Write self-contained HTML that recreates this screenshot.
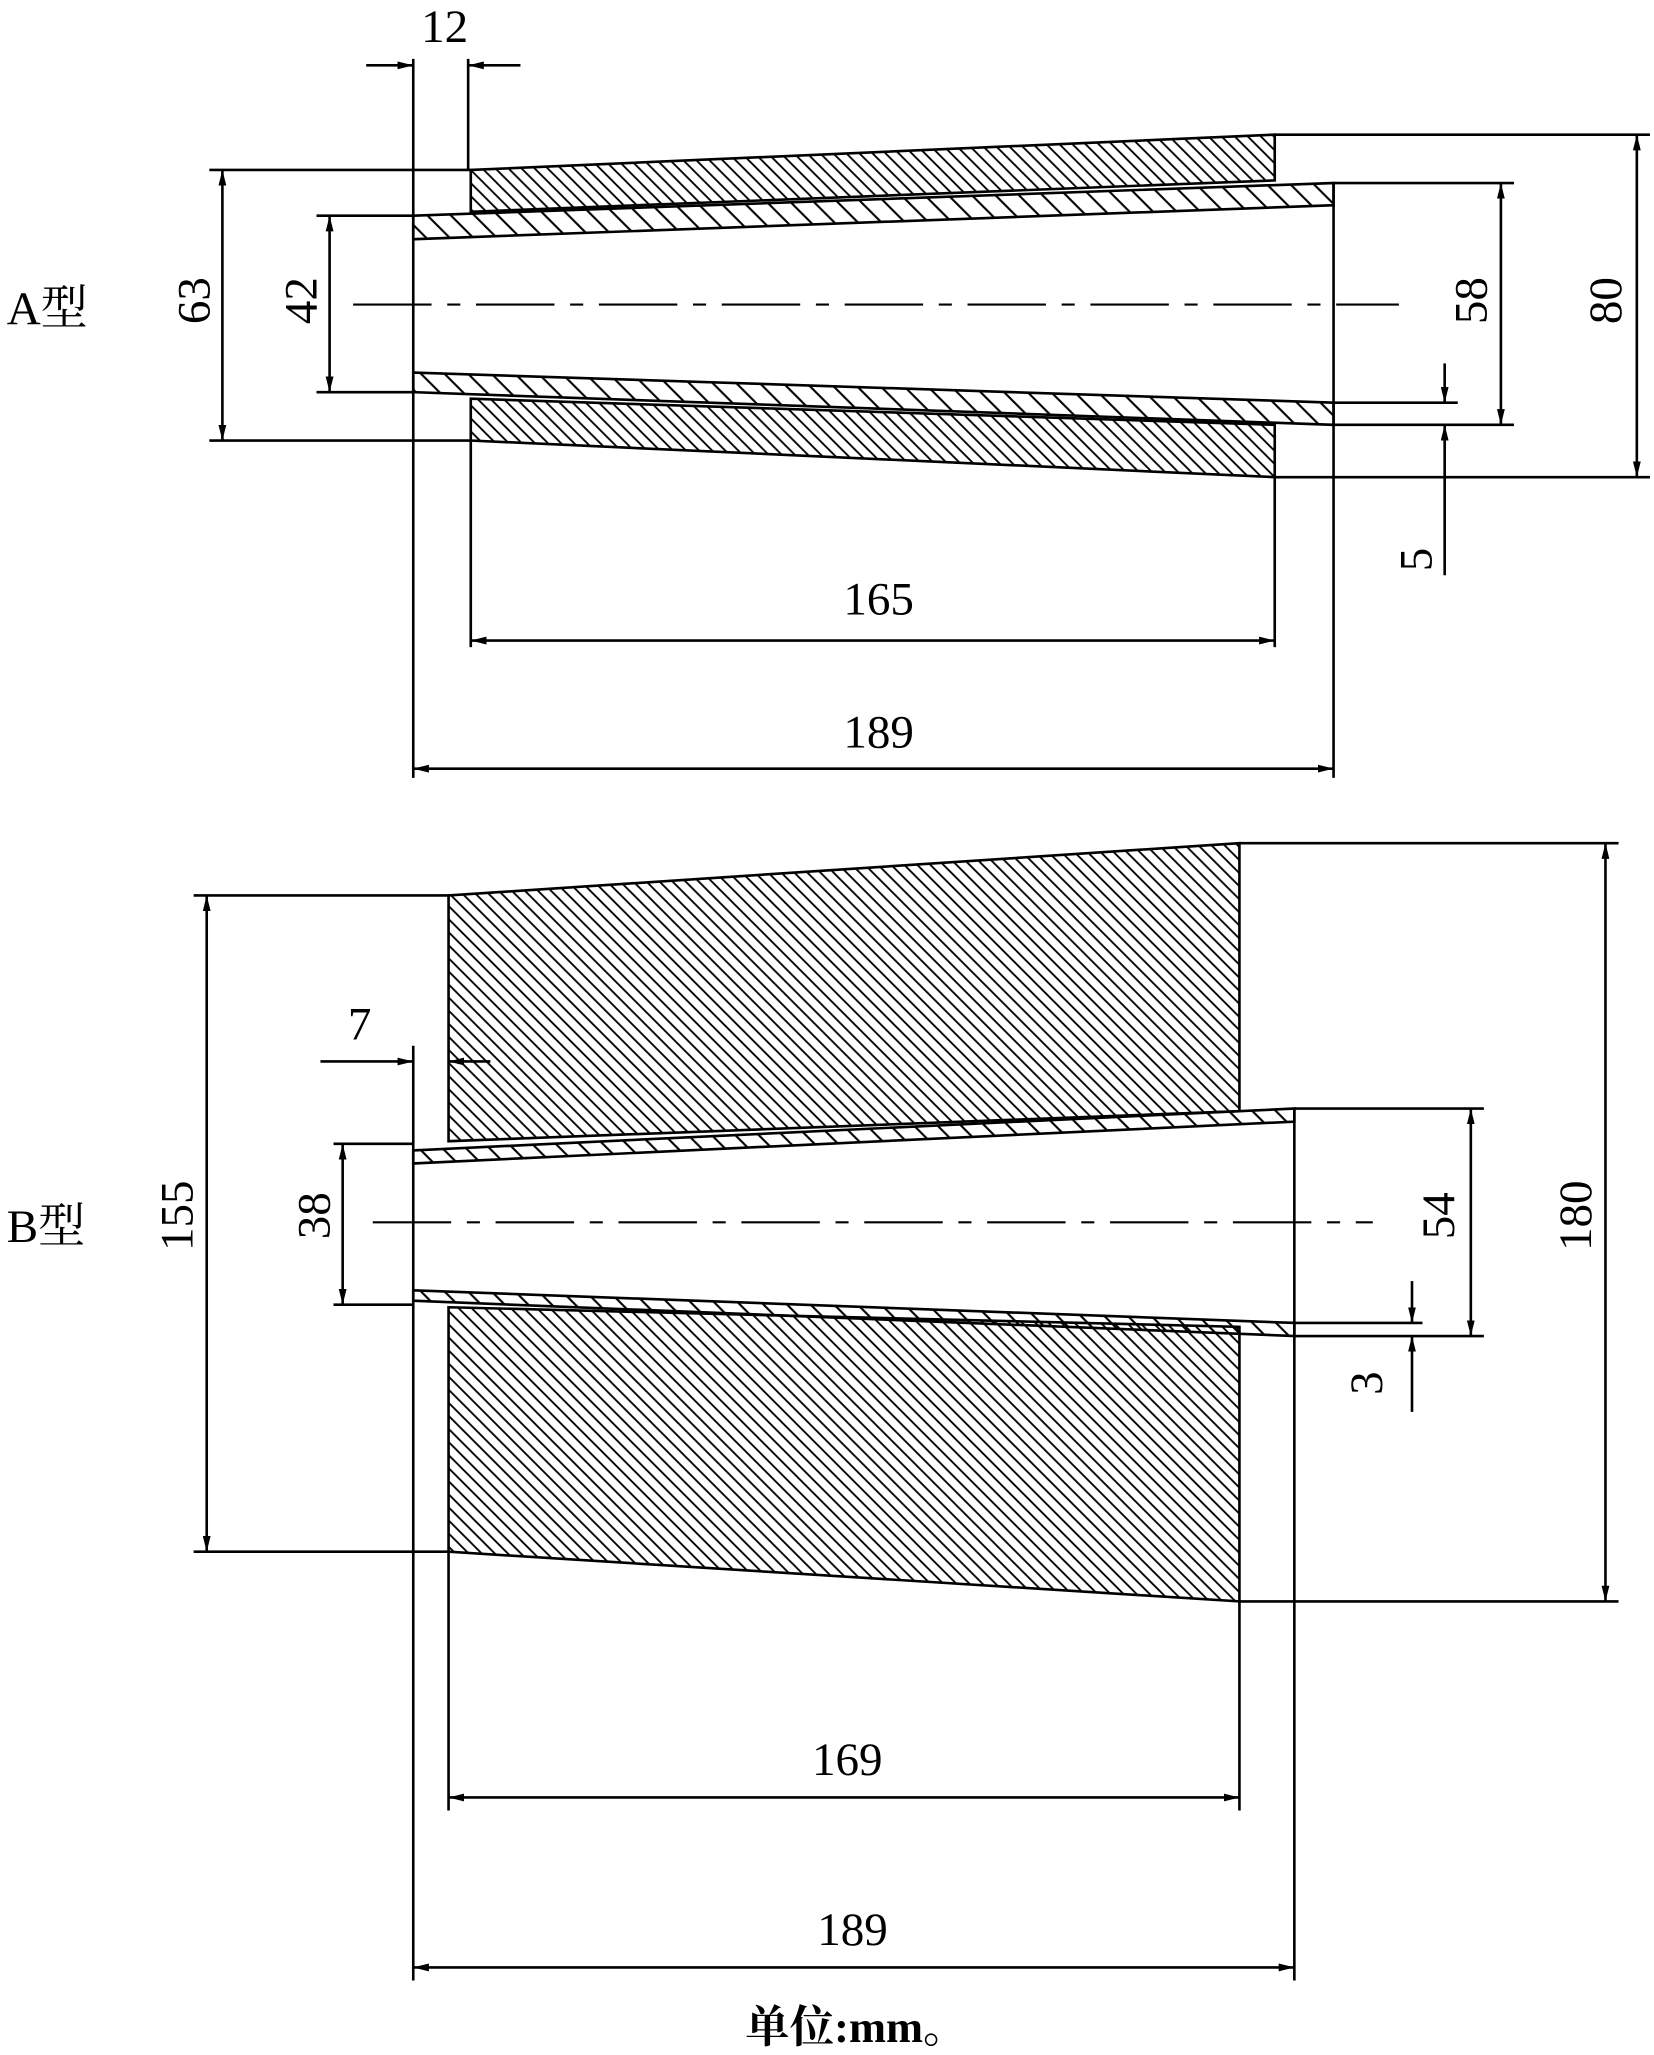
<!DOCTYPE html>
<html><head><meta charset="utf-8"><style>
html,body{margin:0;padding:0;background:#fff;}
svg{display:block;}
text{font-family:"Liberation Serif","Noto Serif CJK SC",serif;fill:#000;}
</style></head><body>
<svg width="1654" height="2055" viewBox="0 0 1265 1572" xmlns="http://www.w3.org/2000/svg">
<defs>
<pattern id="h1" patternUnits="userSpaceOnUse" width="10" height="10">
<path d="M0,0 L10,10 M-5,5 L5,15 M5,-5 L15,5" stroke="#000" stroke-width="1.4"/>
</pattern>
<pattern id="h2" patternUnits="userSpaceOnUse" width="18" height="18">
<path d="M0,0 L18,18 M-9,9 L9,27 M9,-9 L27,9" stroke="#000" stroke-width="1.6"/>
</pattern>
<marker id="ae" viewBox="0 0 12 6" refX="12" refY="3" markerWidth="12" markerHeight="6" orient="auto" markerUnits="userSpaceOnUse"><path d="M0,0 L12,3 L0,6 z" fill="#000"/></marker>
<marker id="as" viewBox="0 0 12 6" refX="0" refY="3" markerWidth="12" markerHeight="6" orient="auto" markerUnits="userSpaceOnUse"><path d="M12,0 L0,3 L12,6 z" fill="#000"/></marker>
</defs>
<g stroke="#000" stroke-width="2" fill="none">
<!-- A type -->
<polygon points="360,130 975,103 975,138 360,162" fill="url(#h1)"/>
<polygon points="316,165 1020,140 1020,157 316,183" fill="url(#h2)"/>
<polygon points="316,285 1020,308 1020,325 316,300" fill="url(#h2)"/>
<polygon points="360,305 975,325 975,365 360,337" fill="url(#h1)"/>
<line x1="316" y1="45" x2="316" y2="595"/>
<line x1="358" y1="45" x2="358" y2="130"/>
<line x1="280" y1="50" x2="316" y2="50" marker-end="url(#ae)"/>
<line x1="398" y1="50" x2="358" y2="50" marker-end="url(#ae)"/>
<line x1="1020" y1="140" x2="1020" y2="595"/>
<line x1="975" y1="365" x2="975" y2="495"/>
<line x1="360" y1="337" x2="360" y2="495"/>
<line x1="360" y1="490" x2="975" y2="490" marker-start="url(#as)" marker-end="url(#ae)"/>
<line x1="316" y1="588" x2="1020" y2="588" marker-start="url(#as)" marker-end="url(#ae)"/>
<line x1="160" y1="130" x2="360" y2="130"/><line x1="160" y1="337" x2="360" y2="337"/>
<line x1="170" y1="130" x2="170" y2="337" marker-start="url(#as)" marker-end="url(#ae)"/>
<line x1="242" y1="165" x2="316" y2="165"/><line x1="242" y1="300" x2="316" y2="300"/>
<line x1="252" y1="165" x2="252" y2="300" marker-start="url(#as)" marker-end="url(#ae)"/>
<line x1="1020" y1="140" x2="1158" y2="140"/><line x1="1020" y1="325" x2="1158" y2="325"/>
<line x1="1148" y1="140" x2="1148" y2="325" marker-start="url(#as)" marker-end="url(#ae)"/>
<line x1="975" y1="103" x2="1262" y2="103"/><line x1="975" y1="365" x2="1262" y2="365"/>
<line x1="1252" y1="103" x2="1252" y2="365" marker-start="url(#as)" marker-end="url(#ae)"/>
<line x1="1020" y1="308" x2="1115" y2="308"/>
<line x1="1105" y1="278" x2="1105" y2="308" marker-end="url(#ae)"/>
<line x1="1105" y1="440" x2="1105" y2="325" marker-end="url(#ae)"/>
<line x1="270" y1="233" x2="1070" y2="233" stroke-dasharray="60,12,10,12" stroke-width="1.6"/>
<!-- B type -->
<polygon points="343,685 948,645 948,850 343,873" fill="url(#h1)"/>
<polygon points="316,880 990,848 990,858 316,890" fill="url(#h2)"/>
<polygon points="316,987 990,1012 990,1022 316,995" fill="url(#h2)"/>
<polygon points="343,1000 948,1015 948,1225 343,1187" fill="url(#h1)"/>
<line x1="316" y1="800" x2="316" y2="1515"/>
<line x1="343" y1="1187" x2="343" y2="1385"/>
<line x1="948" y1="1225" x2="948" y2="1385"/>
<line x1="990" y1="848" x2="990" y2="1515"/>
<line x1="245" y1="812" x2="316" y2="812" marker-end="url(#ae)"/>
<line x1="375" y1="812" x2="343" y2="812" marker-end="url(#ae)"/>
<line x1="148" y1="685" x2="343" y2="685"/><line x1="148" y1="1187" x2="343" y2="1187"/>
<line x1="158" y1="685" x2="158" y2="1187" marker-start="url(#as)" marker-end="url(#ae)"/>
<line x1="255" y1="875" x2="316" y2="875"/><line x1="255" y1="998" x2="316" y2="998"/>
<line x1="262" y1="875" x2="262" y2="998" marker-start="url(#as)" marker-end="url(#ae)"/>
<line x1="990" y1="848" x2="1135" y2="848"/><line x1="990" y1="1022" x2="1135" y2="1022"/>
<line x1="1125" y1="848" x2="1125" y2="1022" marker-start="url(#as)" marker-end="url(#ae)"/>
<line x1="948" y1="645" x2="1238" y2="645"/><line x1="948" y1="1225" x2="1238" y2="1225"/>
<line x1="1228" y1="645" x2="1228" y2="1225" marker-start="url(#as)" marker-end="url(#ae)"/>
<line x1="990" y1="1012" x2="1088" y2="1012"/>
<line x1="1080" y1="980" x2="1080" y2="1012" marker-end="url(#ae)"/>
<line x1="1080" y1="1080" x2="1080" y2="1022" marker-end="url(#ae)"/>
<line x1="343" y1="1375" x2="948" y2="1375" marker-start="url(#as)" marker-end="url(#ae)"/>
<line x1="316" y1="1505" x2="990" y2="1505" marker-start="url(#as)" marker-end="url(#ae)"/>
<line x1="285" y1="935" x2="1050" y2="935" stroke-dasharray="60,12,10,12" stroke-width="1.6"/>
</g>
<g font-size="36">
<text x="340" y="32" text-anchor="middle">12</text>
<text x="672" y="470" text-anchor="middle">165</text>
<text x="672" y="572" text-anchor="middle">189</text>
<text transform="translate(160,230) rotate(-90)" text-anchor="middle">63</text>
<text transform="translate(242,230) rotate(-90)" text-anchor="middle">42</text>
<text transform="translate(1137,230) rotate(-90)" text-anchor="middle">58</text>
<text transform="translate(1240,230) rotate(-90)" text-anchor="middle">80</text>
<text transform="translate(1095,428) rotate(-90)" text-anchor="middle">5</text>
<text x="5" y="248" font-size="36">A型</text>
<text x="275" y="795" text-anchor="middle">7</text>
<text transform="translate(147,930) rotate(-90)" text-anchor="middle">155</text>
<text transform="translate(252,930) rotate(-90)" text-anchor="middle">38</text>
<text transform="translate(1112,930) rotate(-90)" text-anchor="middle">54</text>
<text transform="translate(1217,930) rotate(-90)" text-anchor="middle">180</text>
<text transform="translate(1057,1058) rotate(-90)" text-anchor="middle">3</text>
<text x="648" y="1358" text-anchor="middle">169</text>
<text x="652" y="1488" text-anchor="middle">189</text>
<text x="5" y="950">B型</text>
<text x="570" y="1562" font-weight="bold" font-size="34">单位:mm。</text>
</g>
</svg>
</body></html>
